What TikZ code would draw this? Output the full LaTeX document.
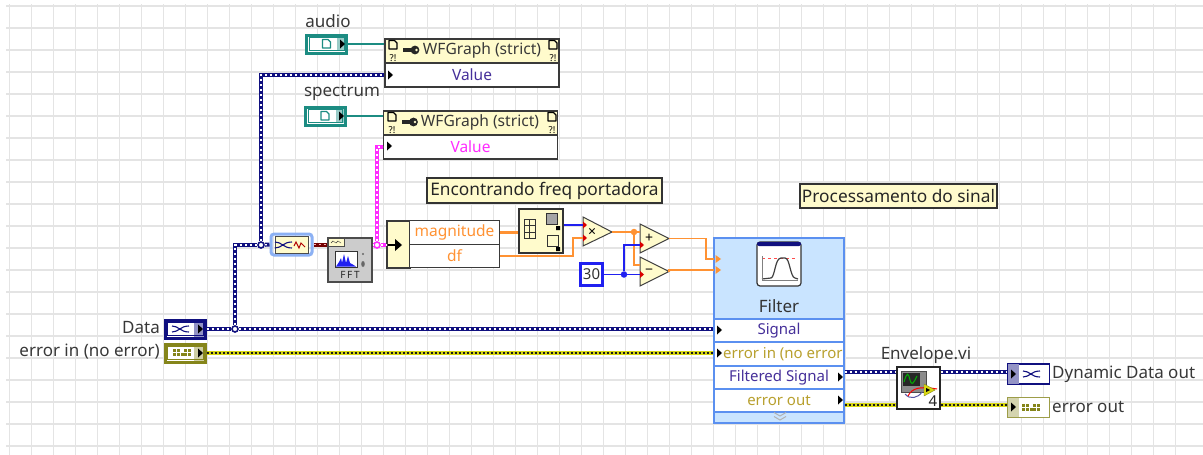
\documentclass[tikz,border=0pt]{standalone}
\usepackage{fontspec}
\setmainfont{Noto Sans}
\usepackage{xcolor}
\usetikzlibrary{calc}

\definecolor{navywire}{HTML}{10107F}
\definecolor{tealterm}{HTML}{1C8C82}
\definecolor{olivewire}{HTML}{85851A}
\definecolor{yellowwire}{HTML}{D8D810}
\definecolor{pinkwire}{HTML}{FF2BFF}
\definecolor{orangewire}{HTML}{FF9233}
\definecolor{bluewire}{HTML}{2020F0}
\definecolor{notefill}{HTML}{FFFBCC}
\definecolor{filterfill}{HTML}{C9E4FF}
\definecolor{filteredge}{HTML}{5B90F0}
\definecolor{gridline}{HTML}{E4E4E4}
\definecolor{rowdark}{HTML}{3A3A3A}
\definecolor{sigtext}{HTML}{46309A}
\definecolor{errtext}{HTML}{B8A02E}

\tikzset{
	lbl/.style={font=\fontsize{17}{18}\selectfont, text=black!78, inner sep=0pt},
	ctrlbox/.style={draw=#1, line width=3pt, fill=white, minimum width=40pt, minimum height=18pt, inner sep=0pt},
	indbox/.style={draw=#1, line width=1.6pt, fill=white, minimum width=42pt, minimum height=20pt, inner sep=0pt},
	headbox/.style={draw=rowdark, line width=1.4pt, fill=notefill, inner sep=0pt},
	headtext/.style={font=\fontsize{15.6}{17}\selectfont, text=black!78, inner sep=0pt},
	rowbox/.style={draw=rowdark, line width=1.4pt, fill=white, inner sep=0pt, font=\fontsize{15.5}{17}\selectfont},
	filtrow/.style={draw=filteredge, line width=1.4pt, fill=white, minimum width=130pt, inner sep=0pt, font=\fontsize{15}{17}\selectfont},
	notebox/.style={draw=black!80, line width=1.2pt, fill=notefill, inner sep=0pt, font=\fontsize{17.3}{18}\selectfont, text=black!85},
	primtri/.style={draw=black!75, line width=1pt, fill=notefill},
	thinwire/.style={draw=#1, line width=1.8pt},
	dynwire/.style={draw=navywire, line width=4pt, postaction={draw=white, line width=1.2pt, dash pattern=on 2pt off 3pt}},
	errwire/.style={draw=yellowwire, line width=4pt, postaction={draw=black!90, line width=2.4pt, dash pattern=on 2pt off 2pt}},
	pinkdots/.style={draw=pinkwire, line width=4pt, postaction={draw=white, line width=1.2pt, dash pattern=on 2pt off 3pt}},
	dynjunct/.style={circle, draw=navywire, line width=1.6pt, fill=white, minimum size=6pt, inner sep=0pt},
	pinkjunct/.style={circle, draw=pinkwire, line width=1.6pt, fill=white, minimum size=6pt, inner sep=0pt},
	filljunct/.style={circle, fill=#1, minimum size=6.5pt, inner sep=0pt},
	pics/tipmark/.style={code={\fill[black] (-2,-4.5) -- (3,0) -- (-2,4.5) -- cycle;}},
	pics/smalltip/.style={code={\fill[#1] (-2.5,-4) -- (3,0) -- (-2.5,4) -- cycle;}},
	pics/docmark/.style={code={\draw[#1, line width=1.3pt, line join=round] (-4,-4.5) -- (1.5,-4.5) -- (4,-2) -- (4,4) -- (-4,4) -- cycle;}},
	pics/dynmark/.style={code={\draw[navywire, line width=1.1pt] (-9,-3) .. controls (-2,-3) and (-1,3) .. (8,3) (-9,3) .. controls (-2,3) and (-1,-3) .. (8,-3);}},
	pics/errmark/.style={code={\foreach \i/\j in {-9/-4, -5/-4, 2/-4, 6/-4, -9/0, -5/0, -1/0, 2/0, 6/0}{\fill[olivewire] (\i,\j) rectangle +(3,3);}}},
	pics/warnmark/.style={code={\node[font=\bfseries\fontsize{9.5}{10}\selectfont, inner sep=0pt] {?!};}},
	pics/keymark/.style={code={\fill[black!85] (-8,-1.6) rectangle (2,1.6); \fill[black!85] (4,0) circle (4.4); \fill[notefill] (5.5,0) circle (1.4);}},
}

\begin{document}
\begin{tikzpicture}[x=1pt, y=-1pt]
	\useasboundingbox (0,0) rectangle (1203,455);
	\fill[white] (0,0) rectangle (1203,455);

	% Block diagram grid
	\foreach \gx in {0,...,53} {
			\draw[gridline, line width=1.2pt] (9.5+22*\gx,4) -- (9.5+22*\gx,455);
		}
	\foreach \gy in {0,...,20} {
			\draw[gridline, line width=1.2pt] (6,6+22*\gy) -- (1203,6+22*\gy);
		}

	% Terminals on the left and top
	\node[ctrlbox=navywire] (dataT) at (185,329) {};
	\fill[navywire!45] (194,322) rectangle (203.5,336.5);
	\draw[navywire, line width=.8pt] (167.5,322.5) rectangle (203,335.5);
	\pic at (181,329) {dynmark};
	\pic at (200,329) {tipmark};
	\node[lbl, anchor=east] (dataL) at (160,328) {Data};

	\node[ctrlbox=olivewire] (errinT) at (185,353) {};
	\fill[olivewire!40] (194,346) rectangle (203.5,360.5);
	\draw[olivewire, line width=.8pt] (167.5,346.5) rectangle (203,359.5);
	\pic at (182,353) {errmark};
	\pic at (200,353) {tipmark};
	\node[lbl, anchor=east] (errinL) at (160,352) {error in (no error)};

	\node[ctrlbox=tealterm] (audioT) at (326.5,44) {};
	\fill[tealterm!45] (337,37) rectangle (344.5,51);
	\draw[tealterm, line width=.8pt] (309.5,37.5) rectangle (344,50.5);
	\pic at (326.5,44) {docmark=tealterm};
	\pic at (342,44) {tipmark};
	\node[lbl] (audioL) at (328,21) {audio};

	\node[ctrlbox=tealterm] (spectrumT) at (325,116) {};
	\fill[tealterm!45] (335.5,109) rectangle (343.5,123);
	\draw[tealterm, line width=.8pt] (308,109.5) rectangle (342.5,122.5);
	\pic at (325,116) {docmark=tealterm};
	\pic at (341,116) {tipmark};
	\node[lbl] (spectrumL) at (342,93) {spectrum};

	% Property nodes
	\node[headbox, minimum width=174pt, minimum height=24pt] (wfaHead) at (472,51) {};
	\node[rowbox, text=sigtext, minimum width=174pt, minimum height=24pt] (wfaVal) at (472,75) {Value};
	\node[headtext] (wfaText) at (482,50) {WFGraph (strict)};
	\pic at (411,50) {keymark};
	\pic at (393,45) {docmark=black};
	\pic at (393,58) {warnmark};
	\pic at (553,45) {docmark=black};
	\pic at (553,58) {warnmark};
	\pic at (390,75) {tipmark};

	\node[headbox, minimum width=174pt, minimum height=24pt] (wfbHead) at (470.5,123) {};
	\node[rowbox, text=pinkwire, minimum width=174pt, minimum height=24pt] (wfbVal) at (470.5,147) {Value};
	\node[headtext] (wfbText) at (480,122) {WFGraph (strict)};
	\pic at (409.5,122) {keymark};
	\pic at (392,117) {docmark=black};
	\pic at (392,130) {warnmark};
	\pic at (552,117) {docmark=black};
	\pic at (552,130) {warnmark};
	\pic at (389,146) {tipmark};

	% Convert to waveform
	\node[draw=filteredge!70, line width=3pt, rounded corners=3pt, minimum width=41pt, minimum height=21pt, inner sep=0pt] (convN) at (291.5,244.5) {};
	\fill[notefill, draw=black!70, line width=1pt] (275,236) rectangle (308,253);
	\pic at (284,245) {dynmark};
	\draw[red!70!black, line width=1pt] (294,246) -- (296,242) -- (299,248) -- (301,243) -- (305,247);

	% FFT
	\node[draw=black!70, line width=1.2pt, fill=black!20, minimum width=44pt, minimum height=44pt, inner sep=0pt] (fftN) at (350,260) {};
	\fill[notefill, draw=black!70] (328.5,238.5) rectangle (344,246);
	\draw[black!80] (331,243) -- (333,241) -- (336,243) -- (338,241) -- (341,243);
	\fill[white, draw=black!80] (335,251) rectangle (357,267);
	\fill[bluewire] (336,266.5) -- (339,262) -- (341,258) -- (342,263) -- (344,254) -- (346,263) -- (348,256) -- (350,263) -- (352,264) -- (356,266.5) -- cycle;
	\node[font=\bfseries\fontsize{10}{10}\selectfont, text=black!85, inner sep=0pt] (fftL) at (350,275) {F\,F\,T};
	\fill[black!60] (363,254) circle (1.2) (363,264) ellipse (1.8 and 3);

	% Unbundle by name
	\node[rowbox, fill=notefill, minimum width=23pt, minimum height=47pt] (unbN) at (398.5,244.5) {};
	\node[rowbox, text=orangewire, minimum width=89.5pt, minimum height=23.5pt] (unbMag) at (454.5,232.5) {magnitude};
	\node[rowbox, text=orangewire, minimum width=89.5pt, minimum height=23.5pt] (unbDf) at (454.5,256) {df};
	\draw[black, line width=2.5pt] (388,245) -- (396,245);
	\fill[black] (395,239) -- (402,245) -- (395,251) -- cycle;

	% Array max and min
	\node[draw=black!80, line width=1.2pt, fill=notefill, minimum width=44pt, minimum height=44pt, inner sep=0pt] (arrN) at (541,231) {};
	\foreach \v in {524,529.5} {\draw[black!80, line width=1pt] (\v,219) rectangle +(5.5,6.5) (\v,225.5) rectangle +(5.5,6.5) (\v,232) rectangle +(5.5,6.5);}
	\draw[black!80, fill=black!35] (546,213) rectangle (557,224);
	\draw[black!80] (547,235) rectangle (558,246);
	\fill[black] (556,226) rectangle (560,230) (556,247) rectangle (560,251);

	% Multiply, add, subtract
	\path[primtri] (583,217) -- (612,232) -- (583,246) -- cycle;
	\node[inner sep=0pt, font=\bfseries\fontsize{14}{14}\selectfont] (mulN) at (592,232) {×};
	\path[primtri] (640,224) -- (669,238.5) -- (640,253) -- cycle;
	\node[inner sep=0pt, font=\bfseries\fontsize{14}{14}\selectfont] (addN) at (649,238.5) {+};
	\path[primtri] (640,257) -- (669,271.5) -- (640,286) -- cycle;
	\node[inner sep=0pt, font=\bfseries\fontsize{14}{14}\selectfont] (subN) at (649,271.5) {−};
	\coordinate (mulA) at (583,225);
	\coordinate (mulB) at (583,238);
	\coordinate (mulOut) at (612,232);
	\coordinate (addA) at (640,232);
	\coordinate (addB) at (640,245);
	\coordinate (addOut) at (669,238.5);
	\coordinate (subA) at (640,265);
	\coordinate (subB) at (640,274.5);
	\coordinate (subOut) at (669,271.5);

	% Constant
	\node[draw=bluewire, line width=2.6pt, fill=white, minimum width=22.5pt, minimum height=22.5pt, inner sep=0pt, font=\fontsize{15}{16}\selectfont, text=black!80] (constN) at (591.5,274.5) {30};

	% Filter express node
	\node[draw=filteredge, line width=1.4pt, fill=filterfill, minimum width=130pt, minimum height=185pt, inner sep=0pt] (filterN) at (779,330.5) {};
	\node[font=\fontsize{17}{18}\selectfont, text=black!80, inner sep=0pt] (filterL) at (779,306) {Filter};
	\node[filtrow, text=sigtext, minimum height=23pt] (sigRow) at (779,330.5) {Signal};
	\node[filtrow, text=errtext, minimum height=24pt] (errRow) at (779,354) {};
	\node[text=errtext, font=\fontsize{15}{17}\selectfont, inner sep=0pt, anchor=west] (errText) at (723,354) {error in (no error};
	\node[filtrow, text=sigtext, minimum height=23pt] (outRow) at (779,377.5) {Filtered Signal};
	\node[filtrow, text=errtext, minimum height=23pt] (eoutRow) at (779,400.5) {error out};
	\draw[black!80, line width=1.2pt, fill=white, rounded corners=3pt] (757,242) rectangle (801,286);
	\fill[navywire, rounded corners=2pt] (757,242) rectangle (801,246);
	\draw[red!70, dashed, line width=1pt] (762,258) -- (797,258);
	\draw[black!75, line width=1.2pt] (762,279) -- (771,278) .. controls (775,277) and (775,258) .. (781,258) -- (785,258) .. controls (790,258) and (790,277) .. (795,278) -- (798,279);
	\draw[black!50, line width=.8pt] (762,256) -- (762,280) -- (798,280);
	\draw[black!30, line width=1pt] (774,412.5) -- (780,416) -- (786,412.5) (774,416.5) -- (780,420) -- (786,416.5);
	\pic at (719,330) {tipmark};
	\pic at (719,353) {tipmark};
	\pic at (840,377) {tipmark};
	\pic at (840,400) {tipmark};
	\pic at (718,259) {smalltip=orangewire};
	\pic at (718,270) {smalltip=orangewire};
	\coordinate (filtLow) at (714,259);
	\coordinate (filtHigh) at (714,270);

	% Envelope subVI
	\node[draw=black!85, line width=1.2pt, fill=white, minimum width=43pt, minimum height=42pt, inner sep=0pt] (envN) at (918.5,388) {};
	\node[lbl] (envL) at (926,355) {Envelope.vi};
	\fill[black!45, draw=black!70] (901,371) rectangle (926,392);
	\fill[black!85] (903,373) rectangle (920,386);
	\draw[green!70!black, line width=1pt] (904,382) .. controls (907,372) and (908,372) .. (910,380) .. controls (912,386) and (913,384) .. (917,376);
	\draw[navywire!70, line width=1pt] (905,394) .. controls (910,400) and (918,398) .. (922,392);
	\draw[red, line width=1pt] (908,396) .. controls (912,388) and (920,386) .. (937,389);
	\fill[yellowwire, draw=olivewire] (924,384) -- (935,390) -- (924,396) -- cycle;
	\fill[black] (926,388) -- (930,390) -- (926,392) -- cycle;
	\node[font=\fontsize{15}{16}\selectfont, text=black!85, inner sep=0pt] (envNum) at (933,401) {4};

	% Indicators on the right
	\node[indbox=navywire] (dynT) at (1028.5,374) {};
	\fill[navywire!45] (1008,364) rectangle (1019,384);
	\pic at (1032,374) {dynmark};
	\pic at (1013,374) {tipmark};
	\node[lbl, anchor=west] (dynL) at (1052,374) {Dynamic Data out};

	\node[indbox=olivewire!80] (eoutT) at (1028.5,407.5) {};
	\fill[olivewire!35] (1008,398) rectangle (1019,417);
	\pic at (1031,407.5) {errmark};
	\pic at (1013,407) {tipmark};
	\node[lbl, anchor=west] (eoutL) at (1052,407) {error out};

	% Free comments
	\node[notebox, minimum width=235pt, minimum height=25pt] (noteFreq) at (544.5,190.5) {Encontrando freq portadora};
	\node[notebox, minimum width=197pt, minimum height=24pt] (noteProc) at (898.5,196) {Processamento do sinal};

	% Junction dots
	\node[dynjunct] (jData) at (235,329) {};
	\node[dynjunct] (jConv) at (261,245) {};
	\node[pinkjunct] (jFft) at (377,245) {};
	\node[filljunct=orangewire] (jMul) at (634,232) {};
	\node[filljunct=bluewire] (jConst) at (624,274.5) {};

	% Wires carrying dynamic data
	\draw[dynwire] (dataT.east) -- (jData);
	\draw[dynwire] (jData) -- (jData -| sigRow.west);
	\draw[dynwire] (jData) |- (jConv);
	\draw[dynwire] (jConv) |- (wfaVal.west);
	\draw[dynwire] (jConv) -- (convN.west);
	\draw[dynwire] (outRow.east |- 0,372) -- (envN.west |- 0,372);
	\draw[dynwire] (envN.east |- 0,372) -- (dynT.west |- 0,372);

	% Error wires
	\draw[errwire] (errinT.east) -- (errinT.east -| errRow.west);
	\draw[errwire] (eoutRow.east |- 0,405) -- (envN.west |- 0,405);
	\draw[errwire] (envN.east |- 0,405) -- (eoutT.west |- 0,405);

	% Other wires
	\draw[tealterm, line width=1.4pt] (audioT.east) -- (audioT.east -| wfaHead.west);
	\draw[tealterm, line width=1.4pt] (spectrumT.east) -- (spectrumT.east -| wfbHead.west);
	\draw[draw=red!45!black, line width=4pt, postaction={draw=white!70!red, line width=1.2pt, dash pattern=on 2pt off 3pt}] (convN.east) -- (convN.east -| fftN.west);
	\draw[pinkdots] (fftN.east |- jFft) -- (jFft);
	\draw[pinkdots] (jFft) -- (jFft -| unbN.west);
	\draw[pinkdots] (jFft) |- (wfbVal.west);
	\draw[orangewire, line width=3pt] (unbMag.east) -- (unbMag.east -| arrN.west);
	\draw[thinwire=orangewire] (unbDf.east) -| (573,238) -- (mulB);
	\draw[thinwire=bluewire] (arrN.east |- mulA) -- (mulA);
	\draw[thinwire=orangewire] (mulOut) -- (jMul);
	\draw[thinwire=orangewire] (jMul) -- (addA);
	\draw[thinwire=orangewire] (jMul) |- (subA);
	\draw[thinwire=bluewire] (constN.east) -- (jConst);
	\draw[thinwire=bluewire] (jConst) -- (subB);
	\draw[thinwire=bluewire] (jConst) |- (addB);
	\draw[thinwire=orangewire] (addOut) -| (706,259) -- (filtLow);
	\draw[thinwire=orangewire] (subOut) -- (669,270) -- (filtHigh);

	% Red input marks on the primitives
	\foreach \m in {mulA, mulB, addB, subB} {
			\fill[red!85!black] ($(\m)+(0,-3.5)$) -- ($(\m)+(4,0)$) -- ($(\m)+(0,3.5)$) -- cycle;
		}
\end{tikzpicture}
\end{document}
